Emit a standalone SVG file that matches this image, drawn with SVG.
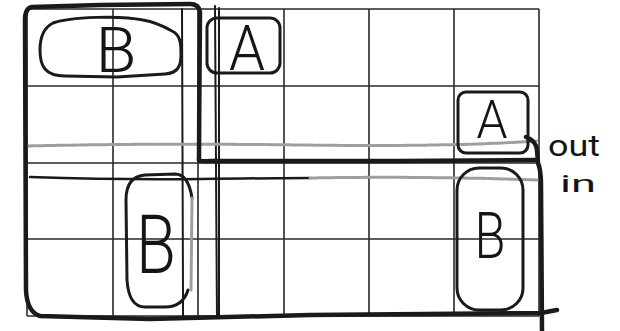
<svg xmlns="http://www.w3.org/2000/svg" width="620" height="331" viewBox="0 0 620 331">
<style>
.grid{stroke:#2a2a2a;stroke-width:1.6;fill:none}
.thick{stroke:#1a1a1a;stroke-width:4.5;fill:none;stroke-linecap:round;stroke-linejoin:round}
.hand{stroke:#1a1a1a;stroke-width:2;fill:none;stroke-linecap:round}
.box{stroke:#1a1a1a;stroke-width:3;fill:none;stroke-linecap:round;stroke-linejoin:round}
.pencil{stroke:#9e9e9e;stroke-width:3;fill:none;stroke-linecap:round;stroke-dasharray:7 1.5}
.lbl{font-family:Roboto,"Liberation Sans",sans-serif;font-weight:300;fill:#151515;text-anchor:middle}
.note{font-family:Roboto,"Liberation Sans",sans-serif;font-weight:400;fill:#151515}
</style>
<rect width="620" height="331" fill="#ffffff"/>
<g id="grid">
<path class="grid" d="M27,9V316M113,9V316M198,9V316M284,9V316M369,9V316M454,9V316M539,9V316"/>
<path class="grid" d="M27,9H539M27,86H539M27,163H539M27,239H539M27,316H539"/>
</g>
<g id="connectors">
<path class="hand" d="M182,9 C182,80 183,200 183,316"/>
<path class="hand" d="M215,6 C216,80 216,200 217,316"/>
<path class="hand" d="M219,8 C219,90 219,220 219,316"/>
<path class="pencil" d="M28,146 Q150,143 300,145 T537,141"/>
<path class="hand" d="M30,177 Q120,180 200,179 T310,178" style="stroke-width:2.5"/>
<path class="pencil" d="M310,178 Q420,176 540,180"/>
<path class="thick" d="M199,160 C199,110 200,50 200,12 Q199,4 190,4 L100,5 L32,7 Q25,8 25,20 L26,290 Q27,312 40,316 L150,319 L310,315 L541,313 L557,310"/>
<path class="thick" d="M199,160 Q200,162 210,161 L400,161 L535,160"/>
<path class="thick" d="M526,137 Q536,141 537,150 L538,163 Q541,170 541,185 L542,331"/>
</g>
<g id="node-B1">
<path class="box" d="M53,23 C70,17 120,15 143,20 C155,22 165,27 172,31 C181,35 181,45 181,55 C181,66 178,73 165,74 L117,77 L65,76 C45,76 40,66 40,50 C40,36 45,27 53,23 Z"/>
<text class="lbl" x="116" y="72" font-size="63" textLength="41" lengthAdjust="spacingAndGlyphs">B</text>
</g>
<g id="node-A1">
<rect class="box" x="207" y="18" width="73" height="55" rx="10"/>
<text class="lbl" x="247" y="70" font-size="63" textLength="36" lengthAdjust="spacingAndGlyphs">A</text>
</g>
<g id="node-A2">
<rect class="box" x="458" y="92" width="70" height="61" rx="8"/>
<text class="lbl" x="492" y="138" font-size="53" textLength="31" lengthAdjust="spacingAndGlyphs">A</text>
</g>
<g id="node-B2">
<path class="box" d="M188,290 C184,303 175,307 165,307 L145,307 C132,307 128,295 127,280 L126,200 C126,184 132,176 145,175 L175,174 C185,174 190,185 192,198"/>
<path class="pencil" d="M192,198 L191,290"/>
<text class="lbl" x="156" y="273" font-size="81" textLength="40" lengthAdjust="spacingAndGlyphs">B</text>
</g>
<g id="node-B3">
<rect class="box" x="457" y="168" width="66" height="142" rx="22"/>
<text class="lbl" x="490" y="258" font-size="64" textLength="31" lengthAdjust="spacingAndGlyphs">B</text>
</g>
<g id="labels">
<text class="note" x="548" y="156" font-size="30" textLength="52" lengthAdjust="spacingAndGlyphs">out</text>
<text class="note" x="560" y="192" font-size="24" textLength="36" lengthAdjust="spacingAndGlyphs">in</text>
</g>
</svg>
